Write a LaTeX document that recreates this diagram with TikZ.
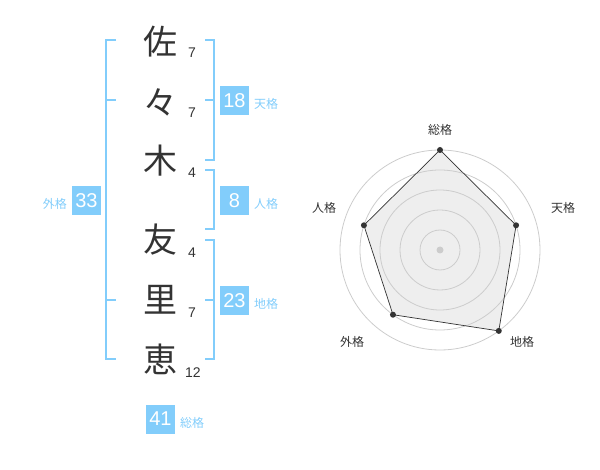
\documentclass[tikz,border=0pt]{standalone}
\usepackage{fontspec}
\setmainfont{Liberation Sans}
\newfontfamily\jp{Noto Sans CJK JP}
\definecolor{kblue}{HTML}{82CDFB}
\definecolor{ktext}{HTML}{333333}
\definecolor{kgrid}{HTML}{CCCCCC}
\definecolor{kfill}{HTML}{EEEEEE}
\tikzset{
  kanji/.style={font=\jp\fontsize{34}{36}\selectfont, text=ktext, inner sep=0pt},
  stroke/.style={font=\fontsize{14}{16}\selectfont, text=ktext, inner sep=0pt},
  kbox/.style={fill=kblue, minimum width=29pt, minimum height=29pt, inner sep=0pt, text=white, font=\fontsize{20}{22}\selectfont},
  klabel/.style={font=\jp\fontsize{12}{14}\selectfont, text=kblue, inner sep=0pt},
  brk/.style={draw=kblue, line width=2pt},
  rlabel/.style={font=\jp\fontsize{12}{14}\selectfont, text=ktext, inner sep=0pt},
  grid/.style={draw=kgrid, line width=0.8pt},
  dot/.style={circle, fill=ktext, inner sep=0pt, minimum size=6pt}
}
\begin{document}
\begin{tikzpicture}[x=1pt,y=-1pt]
\useasboundingbox (0,0) rectangle (600,470);
% kanji
\node[kanji] (k1) at (160,42) {佐};
\node[kanji] (k2) at (160,102) {々};
\node[kanji] (k3) at (160,161) {木};
\node[kanji] (k4) at (160,240) {友};
\node[kanji] (k5) at (160,300) {里};
\node[kanji] (k6) at (160,359) {恵};
% strokes
\node[stroke, anchor=west] (s1) at (188,53) {7};
\node[stroke, anchor=west] (s2) at (188,113) {7};
\node[stroke, anchor=west] (s3) at (188,173) {4};
\node[stroke, anchor=west] (s4) at (188,253) {4};
\node[stroke, anchor=west] (s5) at (188,313) {7};
\node[stroke, anchor=west] (s6) at (185,373) {12};
% left bracket (gaikaku)
\draw[brk] (116,40) -- (106,40) -- (106,359) -- (116,359);
\draw[brk] (106,100) -- (116,100);
\draw[brk] (106,300) -- (116,300);
% right brackets
\draw[brk] (205,40) -- (214,40) -- (214,160) -- (205,160);
\draw[brk] (205,100) -- (214,100);
\draw[brk] (205,170) -- (214,170) -- (214,229) -- (205,229);
\draw[brk] (205,240) -- (214,240) -- (214,359) -- (205,359);
\draw[brk] (205,300) -- (214,300);
% boxes
\node[kbox] (b18) at (234.5,100.5) {18};
\node[klabel, anchor=west] (l18) at (254,104) {天格};
\node[kbox] (b8) at (234.5,200.5) {8};
\node[klabel, anchor=west] (l8) at (254,204) {人格};
\node[kbox] (b23) at (234.5,300.5) {23};
\node[klabel, anchor=west] (l23) at (254,304) {地格};
\node[kbox] (b33) at (86.5,200.5) {33};
\node[klabel, anchor=east] (l33) at (67,204) {外格};
\node[kbox] (b41) at (160.5,419) {41};
\node[klabel, anchor=west] (l41) at (180,423) {総格};
% radar
\coordinate (c) at (440,250);
\coordinate (p1) at ([shift={(-90:100)}]c);
\coordinate (p2) at ([shift={(-18:80)}]c);
\coordinate (p3) at ([shift={(54:100)}]c);
\coordinate (p4) at ([shift={(126:80)}]c);
\coordinate (p5) at ([shift={(198:80)}]c);
\fill[kfill] (p1) -- (p2) -- (p3) -- (p4) -- (p5) -- cycle;
\foreach \r in {20,40,60,80,100} \draw[grid] (c) circle[radius=\r];
\fill[kgrid] (c) circle[radius=3.5];
\draw[ktext, line width=0.7pt] (p1) -- (p2) -- (p3) -- (p4) -- (p5) -- cycle;
\foreach \p in {p1,p2,p3,p4,p5} \node[dot] at (\p) {};
\node[rlabel] (r1) at (440,130) {総格};
\node[rlabel] (r2) at (563,208) {天格};
\node[rlabel] (r3) at (522,342) {地格};
\node[rlabel] (r4) at (352,342) {外格};
\node[rlabel] (r5) at (324,208) {人格};
\end{tikzpicture}
\end{document}
